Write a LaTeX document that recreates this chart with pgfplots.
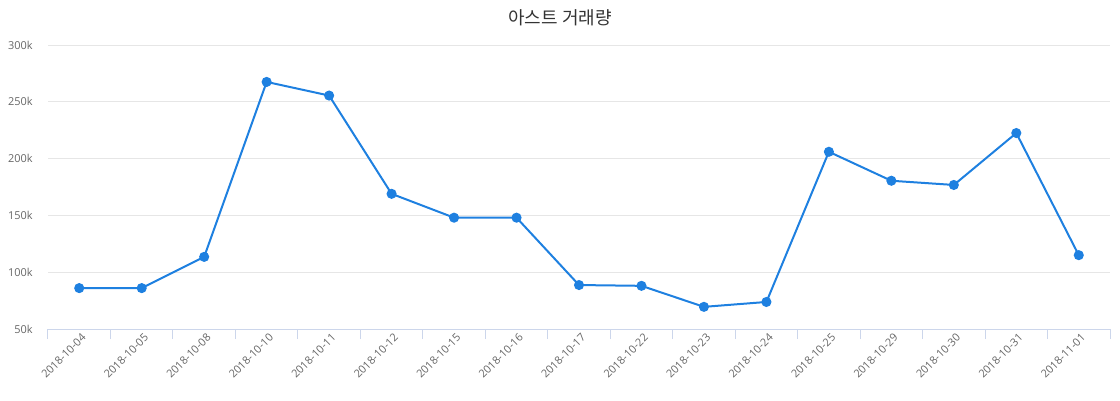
\documentclass[border=0pt]{standalone}
\usepackage{pgfplots}
\pgfplotsset{compat=1.18}
\usepackage{fontspec}
\setmainfont{Open Sans}
\newfontfamily\cjk{Noto Sans CJK KR}
\definecolor{linecol}{HTML}{1E80E0}
\definecolor{gridcol}{HTML}{E6E6E6}
\definecolor{axiscol}{HTML}{CCD6EB}
\definecolor{labelcol}{HTML}{666666}
\definecolor{titlecol}{HTML}{333333}

\begin{document}
\begin{tikzpicture}

\begin{axis}[%
name=main,
width=796.5pt,
height=213pt,
scale only axis,
xmin=-0.5,
xmax=16.5,
ymin=50000,
ymax=300000,
xtick={0,1,...,16},
xticklabels={2018-10-04,2018-10-05,2018-10-08,2018-10-10,2018-10-11,2018-10-12,2018-10-15,2018-10-16,2018-10-17,2018-10-22,2018-10-23,2018-10-24,2018-10-25,2018-10-29,2018-10-30,2018-10-31,2018-11-01},
minor xtick={-0.5,0.5,...,16.5},
major tick length=0pt,
minor tick length=7.5pt,
tick align=outside,
xtick style={draw=none},
minor x tick style={draw=axiscol, line width=0.75pt},
ytick={50000,100000,150000,200000,250000,300000},
yticklabels={50k,100k,150k,200k,250k,300k},
ytick style={draw=none},
ymajorgrids,
grid style={draw=gridcol, line width=0.75pt},
axis x line*=bottom,
axis y line*=left,
x axis line style={draw=axiscol, line width=0.75pt},
y axis line style={draw=none},
xticklabel style={font=\fontsize{8.2}{10}\selectfont, text=labelcol, rotate=45, anchor=east, inner sep=1pt, yshift=-6pt},
yticklabel style={font=\fontsize{8.2}{10}\selectfont, text=labelcol, anchor=east, xshift=-8pt},
scaled y ticks=false
]
\addplot [
color=linecol,
solid,
line width=1.5pt,
mark=*,
mark size=3pt,
mark options={solid, fill=linecol, draw=linecol}
]
table[row sep=crcr]{
0 86000\\
1 86000\\
2 113500\\
3 267500\\
4 255500\\
5 169000\\
6 148000\\
7 148000\\
8 88700\\
9 88000\\
10 69500\\
11 73800\\
12 206000\\
13 180500\\
14 176800\\
15 222500\\
16 115000\\
};
\end{axis}

\node[text=titlecol, font=\cjk\fontsize{13.5}{16}\selectfont, anchor=center]
  at ([xshift=384pt,yshift=20.25pt]main.north west) {아스트 거래량};

\useasboundingbox ([xshift=-36pt,yshift=-53.25pt]main.south west) rectangle ([xshift=7.5pt,yshift=33.75pt]main.north east);

\end{tikzpicture}
\end{document}
